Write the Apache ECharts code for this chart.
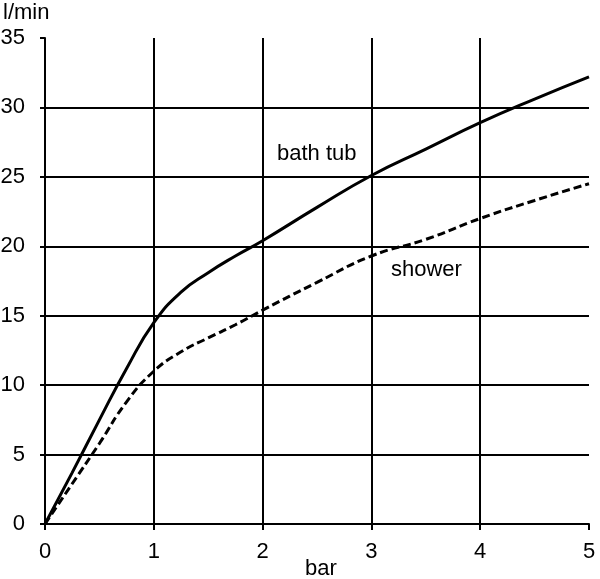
<!DOCTYPE html>
<html>
<head>
<meta charset="utf-8">
<script src="https://cdn.jsdelivr.net/npm/echarts@6/dist/echarts.min.js"></script>
<style>html,body{margin:0;padding:0;background:#fff}#c{width:600px;height:579px}</style>
</head>
<body>
<div id="c"></div>
<script>
const pressureBar = [0, 0.25, 0.5, 0.75, 1, 1.25, 1.5, 1.75, 2, 2.5, 3, 3.5, 4, 4.5, 5];
const bathTub     = [0, 3.7, 7.5, 11.2, 14.5, 16.7, 18.1, 19.3, 20.4, 22.8, 25.1, 27.0, 28.9, 30.6, 32.2];
const shower      = [0, 2.9, 5.8, 8.8, 11.0, 12.4, 13.4, 14.35, 15.4, 17.4, 19.3, 20.5, 22.0, 23.3, 24.5];
const xTicks = [0, 1, 2, 3, 4, 5];
const yTicks = [0, 5, 10, 15, 20, 25, 30, 35];
const seriesNames = ['bath tub', 'shower'];
const yUnit = 'l/min';
const xUnit = 'bar';

const font = 'Liberation Sans, Arial, sans-serif';
const chart = echarts.init(document.getElementById('c'), null, {renderer: 'canvas'});
const pair = (ys) => pressureBar.map((x, i) => [x, ys[i]]);

chart.setOption({
  backgroundColor: '#fff',
  animation: false,
  grid: {left: 45, right: 11, top: 38, bottom: 55, containLabel: false, outerBoundsMode: 'none'},
  xAxis: {
    type: 'value', min: xTicks[0], max: xTicks[xTicks.length - 1], interval: 1,
    name: xUnit, nameLocation: 'middle', nameGap: 34, nameMoveOverlap: false,
    nameTextStyle: {fontFamily: font, fontSize: 22, color: '#000', padding: [0, 0, 0, 8]},
    axisLine: {show: true, lineStyle: {color: '#000', width: 2}},
    axisTick: {show: true, length: 6, lineStyle: {color: '#000', width: 2}},
    axisLabel: {fontFamily: font, fontSize: 22, color: '#000', margin: 17},
    splitLine: {show: true, showMinLine: false, showMaxLine: false, lineStyle: {color: '#000', width: 2}}
  },
  yAxis: {
    type: 'value', min: yTicks[0], max: yTicks[yTicks.length - 1], interval: 5,
    axisLine: {show: true, lineStyle: {color: '#000', width: 2}},
    axisTick: {show: true, length: 5, lineStyle: {color: '#000', width: 2}},
    axisLabel: {fontFamily: font, fontSize: 22, color: '#000', margin: 20},
    splitLine: {show: true, showMinLine: false, showMaxLine: false, lineStyle: {color: '#000', width: 2}}
  },
  graphic: [
    {type: 'text', left: 3, top: 2, style: {text: yUnit, fontFamily: font, fontSize: 22, fill: '#000'}},
    {type: 'text', left: 277, top: 143, style: {text: seriesNames[0], fontFamily: font, fontSize: 22, fill: '#000'}},
    {type: 'text', left: 391, top: 259, style: {text: seriesNames[1], fontFamily: font, fontSize: 22, fill: '#000'}}
  ],
  series: [
    {name: seriesNames[0], type: 'line', data: pair(bathTub), smooth: 0.5, showSymbol: false,
     lineStyle: {color: '#000', width: 3}, z: 5},
    {name: seriesNames[1], type: 'line', data: pair(shower), smooth: 0.5, showSymbol: false,
     lineStyle: {color: '#000', width: 3, type: [8, 4]}, z: 5}
  ]
});
</script>
</body>
</html>
